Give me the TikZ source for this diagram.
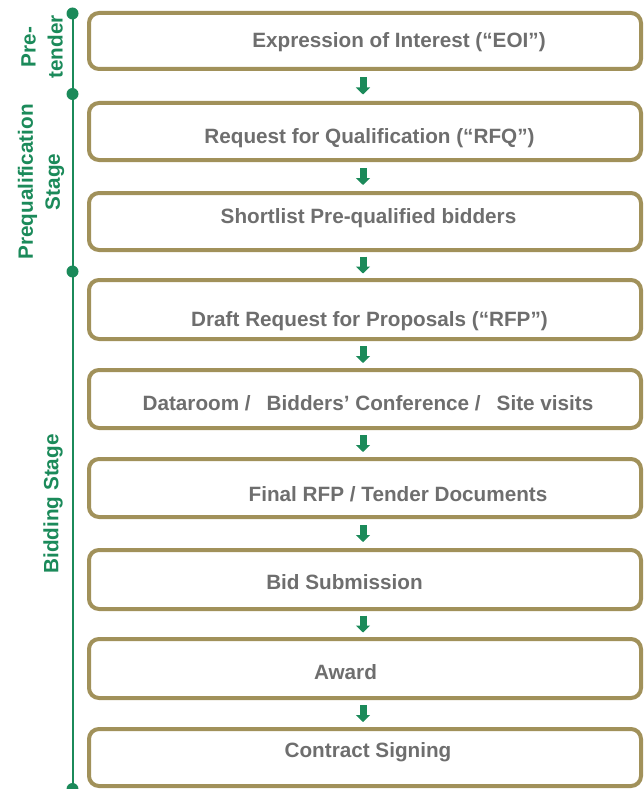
\documentclass[tikz,border=0pt]{standalone}
\usepackage{fontspec}
\setmainfont{Liberation Sans}
\usetikzlibrary{arrows.meta,calc}
\definecolor{boxcol}{HTML}{A1915A}
\definecolor{txtcol}{HTML}{6E6E6E}
\definecolor{grn}{HTML}{1B8A5A}
\begin{document}
\begin{tikzpicture}[x=1pt,y=-1pt,
  stagebox/.style={draw=boxcol, line width=4pt, rounded corners=10pt, minimum width=552pt, inner sep=0pt},
  boxtext/.style={anchor=base, inner sep=0pt, font=\fontsize{20.7}{24}\selectfont\bfseries, text=txtcol},
  stagelabel/.style={rotate=90, font=\fontsize{20.7}{27}\selectfont\bfseries, text=grn, align=center, inner sep=0pt},
  dot/.style={circle, fill=grn, minimum size=12pt, inner sep=0pt},
  garr/.style={grn, line width=7pt, -{Triangle[width=14pt,length=7pt]}}
]
\useasboundingbox (0,0) rectangle (644,789);
% boxes
\node[stagebox, minimum height=56pt] (b1) at (365,41) {};
\node[stagebox, minimum height=57pt] (b2) at (365,131.5) {};
\node[stagebox, minimum height=57pt] (b3) at (365,221.5) {};
\node[stagebox, minimum height=59pt] (b4) at (365,309.5) {};
\node[stagebox, minimum height=58pt] (b5) at (365,399) {};
\node[stagebox, minimum height=58pt] (b6) at (365,488) {};
\node[stagebox, minimum height=59pt] (b7) at (365,579.5) {};
\node[stagebox, minimum height=59pt] (b8) at (365,668.5) {};
\node[stagebox, minimum height=57pt] (b9) at (365,757.5) {};
% texts
\node[boxtext] (t1) at (399,48) {Expression of Interest (“EOI”)};
\node[boxtext] (t2) at (369.5,143) {Request for Qualification (“RFQ”)};
\node[boxtext] (t3) at (368.5,223) {Shortlist Pre-qualified bidders};
\node[boxtext] (t4) at (369.5,326) {Draft Request for Proposals (“RFP”)};
\node[boxtext] (t5) at (368,410) {Dataroom /\hspace{16pt}Bidders’ Conference /\hspace{16pt}Site visits};
\node[boxtext] (t6) at (398,501) {Final RFP / Tender Documents};
\node[boxtext] (t7) at (344.5,589) {Bid Submission};
\node[boxtext] (t8) at (345.5,679) {Award};
\node[boxtext] (t9) at (368,757) {Contract Signing};
% arrows
\foreach \a/\b in {b1/b2,b2/b3,b3/b4,b4/b5,b5/b6,b6/b7,b7/b8,b8/b9}{
  \draw[garr] ($(\a.south)!0.5!(\b.north)+(-2,-8.5)$) -- ++(0,17);
}
% timeline
\node[dot] (d1) at (72.5,13.5) {};
\node[dot] (d2) at (72.5,94) {};
\node[dot] (d3) at (72.5,271.5) {};
\node[dot] (d4) at (72.5,789) {};
\draw[grn, line width=2pt] (d1.center) -- (d4.center);
% stage labels
\node[stagelabel] (l1) at (42,47) {Pre-\\tender};
\node[stagelabel] (l2) at (41,182) {Prequalification\\Stage};
\node[stagelabel] (l3) at (53,504) {Bidding Stage};
\end{tikzpicture}
\end{document}
